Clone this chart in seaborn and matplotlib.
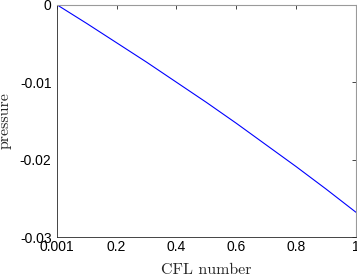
import numpy as np
import pandas as pd
import seaborn as sns
import matplotlib.pyplot as plt

# values
cfl = [0.001, 0.1, 0.2, 0.3, 0.4, 0.5, 0.6, 0.7, 0.8, 0.9, 1.0]
pressure = [0.0, -0.0024, -0.0049, -0.0074, -0.0100, -0.0126, -0.0153,
            -0.0181, -0.0209, -0.0238, -0.0268]

xticks = [0.001, 0.2, 0.4, 0.6, 0.8, 1.0]
xticklabels = ["0.001", "0.2", "0.4", "0.6", "0.8", "1"]
yticks = [0.0, -0.01, -0.02, -0.03]
yticklabels = ["0", "-0.01", "-0.02", "-0.03"]

df = pd.DataFrame({"cfl": cfl, "pressure": pressure})

sns.set_style("white")
plt.rcParams['font.family'] = ['Liberation Sans', 'DejaVu Sans']

fig = plt.figure(figsize=(3.57, 2.77), dpi=100)
ax = fig.add_axes([0.160, 0.1444, 0.837, 0.838])

sns.lineplot(data=df, x="cfl", y="pressure", ax=ax, color=(0, 0, 1), linewidth=0.8)

ax.set_xlim(0.001, 1)
ax.set_ylim(-0.03, 0)
ax.set_xticks(xticks)
ax.set_xticklabels(xticklabels)
ax.set_yticks(yticks)
ax.set_yticklabels(yticklabels)

axcol = "#262626"
for side in ["left", "bottom", "top", "right"]:
    ax.spines[side].set_visible(True)
    ax.spines[side].set_color("#9a9a9a")
    ax.spines[side].set_linewidth(0.8)
ax.spines["left"].set_color(axcol)
ax.spines["bottom"].set_color(axcol)
ax.spines["left"].set_linewidth(0.6)
ax.spines["bottom"].set_linewidth(0.6)

ax.tick_params(direction="in", length=3, width=0.6, color=axcol, labelcolor="black",
               labelsize=10, top=True, right=True)
ax.tick_params(axis="x", pad=2.5)
ax.tick_params(axis="y", pad=4)

ax.set_xlabel("CFL number", fontfamily="cmr10", fontsize=11.5, labelpad=6)
ax.set_ylabel("pressure", fontfamily="cmr10", fontsize=11.5, labelpad=6)

fig.savefig("out.png", dpi=100)
